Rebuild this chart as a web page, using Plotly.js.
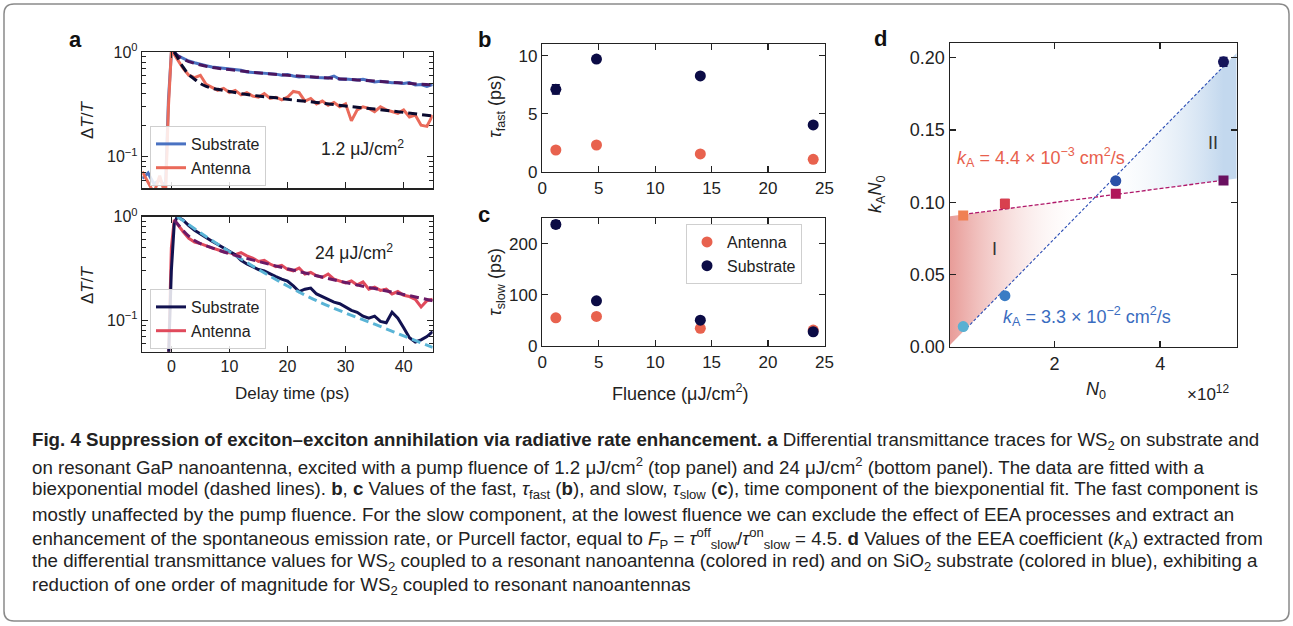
<!DOCTYPE html>
<html><head><meta charset="utf-8">
<script src="https://cdn.plot.ly/plotly-3.0.1.min.js"></script>
<style>html,body{margin:0;padding:0;background:#fff}#chart{width:1293px;height:626px}</style>
</head><body><div id="chart"></div>
<script>
// ---------- DATA ----------
// panel a: delay-time traces (ps) and normalized dT/T
const delayTime = [-5,-4,-3,-2,-1,-0.5,0,0.5,1,2,3,4,5,6,7,8,9,10,11,12,13,14,15,16,17,18,19,20,21,22,23,24,25,26,27,28,29,30,31,32,33,34,35,36,37,38,39,40,41,42,43,44,45];
const topSubstrate = [0.062,0.07,0.055,0.06,0.052,0.35,0.97,1.0,0.93,0.87,0.82,0.79,0.76,0.74,0.72,0.71,0.69,0.68,0.675,0.67,0.645,0.64,0.635,0.625,0.62,0.615,0.60,0.61,0.59,0.578,0.585,0.575,0.57,0.568,0.565,0.59,0.55,0.553,0.545,0.54,0.548,0.53,0.518,0.525,0.515,0.51,0.508,0.50,0.512,0.485,0.49,0.47,0.49];
const topAntenna = [0.072,0.058,0.045,0.066,0.042,0.3,1.0,0.95,0.86,0.7,0.6,0.57,0.6,0.49,0.46,0.43,0.45,0.41,0.43,0.39,0.41,0.38,0.37,0.4,0.36,0.37,0.35,0.37,0.42,0.41,0.34,0.36,0.32,0.34,0.31,0.33,0.3,0.32,0.22,0.28,0.3,0.29,0.27,0.3,0.28,0.27,0.26,0.28,0.24,0.25,0.2,0.195,0.25];
const bottomSubstrate = [0.03,0.03,0.03,0.03,0.03,0.04,0.3,0.85,1.0,0.93,0.82,0.74,0.68,0.62,0.58,0.54,0.50,0.47,0.43,0.38,0.35,0.33,0.31,0.30,0.28,0.265,0.25,0.24,0.215,0.19,0.2,0.205,0.18,0.17,0.16,0.15,0.145,0.135,0.125,0.12,0.11,0.105,0.11,0.098,0.095,0.12,0.105,0.085,0.068,0.062,0.065,0.07,0.078];
const bottomAntenna = [0.03,0.03,0.03,0.03,0.03,0.04,0.5,0.93,0.85,0.72,0.62,0.57,0.55,0.52,0.5,0.48,0.46,0.45,0.43,0.45,0.42,0.4,0.37,0.38,0.35,0.33,0.34,0.31,0.3,0.32,0.28,0.29,0.27,0.26,0.28,0.25,0.24,0.23,0.24,0.22,0.235,0.2,0.21,0.195,0.2,0.18,0.19,0.175,0.17,0.16,0.135,0.155,0.16];
// biexponential fits (dashed)
const fitTimeTopSub = [0.5,1,2,3,4,6,8,10,13,16,20,25,30,35,40,45];
const fitTopSub = [1.0,0.93,0.86,0.81,0.78,0.73,0.70,0.68,0.65,0.625,0.60,0.575,0.55,0.528,0.505,0.485];
const fitTimeTopAnt = [0.5,1,2,3,4,5,6,7,8,10,12,15,18,21,25,30,35,40,45];
const fitTopAnt = [1.0,0.9,0.72,0.61,0.55,0.5,0.47,0.45,0.44,0.42,0.40,0.38,0.365,0.348,0.33,0.305,0.285,0.265,0.245];
const fitTimeBotAnt = [0.5,1,2,3,4,5,7,10,15,20,25,30,35,40,45];
const fitBotAnt = [0.93,0.86,0.74,0.65,0.59,0.55,0.5,0.44,0.37,0.315,0.27,0.232,0.203,0.178,0.155];
const fitTimeBotSub = [1,2,5,10,15,20,25,30,35,40,45];
const fitBotSub = [1.0,0.92,0.70,0.46,0.31,0.215,0.155,0.118,0.092,0.071,0.055];

// panels b, c
const fluence = [1.2,4.8,14,24];
const tauFastSubstrate = [7.1,9.7,8.25,4.03];
const tauFastSubstrateErr = [0.4,0.2,0.15,0.1];
const tauFastAntenna = [1.87,2.3,1.53,1.07];
const tauFastAntennaErr = [0.1,0.1,0.1,0.08];
const tauSlowSubstrate = [238,88,50,27.4];
const tauSlowSubstrateErr = [7,3,3,2];
const tauSlowAntenna = [54.7,57.4,34,30.7];
const tauSlowAntennaErr = [2,2,2,2];

// panel d
const n0 = [0.27,1.06,3.16,5.2];
const kAN0Antenna = [0.0908,0.0989,0.1058,0.115];
const kAN0AntennaErr = [0.001,0.003,0.002,0.0015];
const kAN0Substrate = [0.0139,0.0353,0.1148,0.1972];
const kAN0SubstrateErr = [0.001,0.001,0.002,0.003];
const fitAntennaIntercept = 0.0902, fitAntennaSlope = 0.00481;
const fitSubstrateIntercept = 0.00035, fitSubstrateSlope = 0.03724;

// ---------- STYLE ----------
const W = 1293, H = 626;
const FONT = '"Liberation Sans", Arial, sans-serif';
const CAPFONT = '"Liberation Sans", Arial, sans-serif';
const px = x => x / W, py = y => 1 - y / H;

const cSub1 = '#4a72c2', cAnt1 = '#ea6a5a', cFit1Sub = '#4a1660', cFit1Ant = '#0a0a2e';
const cSub2 = '#121250', cAnt2 = '#e04a5c', cFit2Ant = '#6a1a66', cFit2Sub = '#5ab4d6';
const cNavy = '#0b0b45', cCoral = '#e8624e';
const antColors = ['#f08052','#d8404e','#b0165a','#6a1060'];
const subColors = ['#5ab0d2','#3a7cc4','#2a50a8','#14145a'];

const traces = [];
// ---- panel a top
traces.push({x: delayTime, y: topSubstrate, xaxis:'x', yaxis:'y', mode:'lines', name:'Substrate', legend:'legend', line:{color:cSub1, width:3}});
traces.push({x: delayTime, y: topAntenna, xaxis:'x', yaxis:'y', mode:'lines', name:'Antenna', legend:'legend', line:{color:cAnt1, width:3}});
traces.push({x: fitTimeTopSub, y: fitTopSub, xaxis:'x', yaxis:'y', mode:'lines', showlegend:false, line:{color:cFit1Sub, width:3, dash:'9px,5px', shape:'spline'}});
traces.push({x: fitTimeTopAnt, y: fitTopAnt, xaxis:'x', yaxis:'y', mode:'lines', showlegend:false, line:{color:cFit1Ant, width:3, dash:'9px,5px', shape:'spline'}});
// ---- panel a bottom
traces.push({x: delayTime, y: bottomAntenna, xaxis:'x2', yaxis:'y2', mode:'lines', name:'Antenna', legend:'legend2', line:{color:cAnt2, width:3}});
traces.push({x: delayTime, y: bottomSubstrate, xaxis:'x2', yaxis:'y2', mode:'lines', name:'Substrate', legend:'legend2', line:{color:cSub2, width:3}});
traces.push({x: fitTimeBotSub, y: fitBotSub, xaxis:'x2', yaxis:'y2', mode:'lines', showlegend:false, line:{color:cFit2Sub, width:3, dash:'9px,5px', shape:'spline'}});
traces.push({x: fitTimeBotAnt, y: fitBotAnt, xaxis:'x2', yaxis:'y2', mode:'lines', showlegend:false, line:{color:cFit2Ant, width:3, dash:'9px,5px', shape:'spline'}});
// ---- panel b
traces.push({x: fluence, y: tauFastAntenna, xaxis:'x3', yaxis:'y3', mode:'markers', showlegend:false, marker:{color:cCoral, size:11}, error_y:{type:'data', array:tauFastAntennaErr, color:cCoral, thickness:1.5, width:3}});
traces.push({x: fluence, y: tauFastSubstrate, xaxis:'x3', yaxis:'y3', mode:'markers', showlegend:false, marker:{color:cNavy, size:11}, error_y:{type:'data', array:tauFastSubstrateErr, color:cNavy, thickness:1.5, width:4}});
// ---- panel c
traces.push({x: fluence, y: tauSlowAntenna, xaxis:'x4', yaxis:'y4', mode:'markers', name:'Antenna', legend:'legend3', marker:{color:cCoral, size:11}, error_y:{type:'data', array:tauSlowAntennaErr, color:cCoral, thickness:1.5, width:3}});
traces.push({x: fluence, y: tauSlowSubstrate, xaxis:'x4', yaxis:'y4', mode:'markers', name:'Substrate', legend:'legend3', marker:{color:cNavy, size:11}, error_y:{type:'data', array:tauSlowSubstrateErr, color:cNavy, thickness:1.5, width:4}});

// ---- panel d
const dXmin = 0.02, dXmax = 5.45;
const lineA = x => fitAntennaIntercept + fitAntennaSlope * x;
const lineS = x => fitSubstrateIntercept + fitSubstrateSlope * x;
const xCross = (fitAntennaIntercept - fitSubstrateIntercept) / (fitSubstrateSlope - fitAntennaSlope);
// region I (red)
traces.push({x:[dXmin, xCross, dXmin, dXmin], y:[lineA(dXmin), lineA(xCross), lineS(dXmin), lineA(dXmin)], xaxis:'x5', yaxis:'y5', mode:'lines', line:{width:0}, fill:'toself', showlegend:false, hoverinfo:'skip',
  fillgradient:{type:'horizontal', start:dXmin, stop:xCross*0.95, colorscale:[[0,'#e89c98'],[1,'rgba(255,255,255,0)']]}});
// region II (blue)
traces.push({x:[xCross, dXmax, dXmax, xCross], y:[lineS(xCross), lineS(dXmax), lineA(dXmax), lineS(xCross)], xaxis:'x5', yaxis:'y5', mode:'lines', line:{width:0}, fill:'toself', showlegend:false, hoverinfo:'skip',
  fillgradient:{type:'horizontal', start:xCross, stop:5.2, colorscale:[[0,'rgba(255,255,255,0)'],[1,'#c3d8ee']]}});
// fit lines
const fitX = [n0[0], n0[n0.length-1]];
traces.push({x: fitX, y: fitX.map(lineA), xaxis:'x5', yaxis:'y5', mode:'lines', showlegend:false, line:{color:'#b0186a', width:1.3, dash:'4px,2px'}});
traces.push({x: fitX, y: fitX.map(lineS), xaxis:'x5', yaxis:'y5', mode:'lines', showlegend:false, line:{color:'#2a4cb4', width:1.1, dash:'3px,2px'}});
// points
traces.push({x: n0, y: kAN0Antenna, xaxis:'x5', yaxis:'y5', mode:'markers', showlegend:false, marker:{symbol:'square', size:10, color:antColors}, error_y:{type:'data', array:kAN0AntennaErr, color:'#b0165a', thickness:1.5, width:4}});
traces.push({x: n0, y: kAN0Substrate, xaxis:'x5', yaxis:'y5', mode:'markers', showlegend:false, marker:{symbol:'circle', size:11, color:subColors}, error_y:{type:'data', array:kAN0SubstrateErr, color:'#14145a', thickness:1.5, width:4}});

// ---------- AXES ----------
function ax(extra){
  return Object.assign({showline:true, linecolor:'#222', linewidth:1.5, mirror:'allticks', ticks:'inside', ticklen:6, tickwidth:1.3, tickcolor:'#222',
    showgrid:false, zeroline:false, tickfont:{family:FONT, size:16, color:'#222'}, fixedrange:true}, extra);
}
const logMinor = {ticks:'inside', ticklen:3.5, tickwidth:1, tickcolor:'#222', tickvals:[0.05,0.06,0.07,0.08,0.09,0.2,0.3,0.4,0.5,0.6,0.7,0.8,0.9]};
const logTicks = {type:'log', range:[Math.log10(0.05), 0], tickvals:[0.1,1], ticktext:['10<sup>−1</sup>','10<sup>0</sup>'], minor:logMinor};
const t17 = {family:FONT, size:17, color:'#222'};

const layout = {
  width:W, height:H, margin:{l:0,r:0,t:0,b:0}, paper_bgcolor:'#fff', plot_bgcolor:'rgba(0,0,0,0)',
  font:{family:FONT, color:'#222'},
  xaxis: ax({domain:[px(142.3), px(432.7)], anchor:'y', range:[-5,45], tickvals:[0,10,20,30,40], showticklabels:false}),
  yaxis: ax(Object.assign({domain:[py(188.3), py(52)], anchor:'x'}, logTicks)),
  xaxis2: ax({domain:[px(142.3), px(432.7)], anchor:'y2', range:[-5,45], tickvals:[0,10,20,30,40]}),
  yaxis2: ax(Object.assign({domain:[py(351.7), py(216.7)], anchor:'x2'}, logTicks)),
  xaxis3: ax({domain:[px(542.3), px(824.5)], anchor:'y3', range:[0,25], tickvals:[0,5,10,15,20,25], tickfont:t17}),
  yaxis3: ax({domain:[py(171.7), py(44)], anchor:'x3', range:[0,11], tickvals:[0,5,10], tickfont:t17}),
  xaxis4: ax({domain:[px(542.3), px(824.5)], anchor:'y4', range:[0,25], tickvals:[0,5,10,15,20,25], tickfont:t17}),
  yaxis4: ax({domain:[py(345.7), py(218.3)], anchor:'x4', range:[0,250], tickvals:[0,100,200], tickfont:t17}),
  xaxis5: ax({domain:[px(950), px(1236.7)], anchor:'y5', range:[dXmin, dXmax], tickvals:[2,4], tickfont:{family:FONT,size:18,color:'#222'}}),
  yaxis5: ax({domain:[py(346.7), py(43.3)], anchor:'x5', range:[0,0.21], tickvals:[0,0.05,0.1,0.15,0.2], tickformat:'.2f', tickfont:{family:FONT,size:18,color:'#222'}}),
  legend: {x:px(150), y:py(126), xanchor:'left', yanchor:'top', bgcolor:'rgba(255,255,255,0.85)', bordercolor:'#cfcfcf', borderwidth:1, font:{family:FONT,size:16,color:'#222'}, tracegroupgap:0},
  legend2: {x:px(150), y:py(289), xanchor:'left', yanchor:'top', bgcolor:'rgba(255,255,255,0.85)', bordercolor:'#cfcfcf', borderwidth:1, font:{family:FONT,size:16,color:'#222'}, traceorder:'reversed'},
  legend3: {x:px(686), y:py(224), xanchor:'left', yanchor:'top', bgcolor:'rgba(255,255,255,0.85)', bordercolor:'#cfcfcf', borderwidth:1, font:{family:FONT,size:16,color:'#222'}},
  annotations: [],
  shapes: []
};

function ann(x, y, text, opts){
  layout.annotations.push(Object.assign({xref:'paper', yref:'paper', x:px(x), y:py(y), text:text, showarrow:false,
    xanchor:'center', yanchor:'middle', font:{family:FONT, size:17, color:'#222'}}, opts||{}));
}
const bigBold = {family:FONT, size:22, color:'#111'};
// panel letters
ann(75, 40, '<b>a</b>', {font:bigBold});
ann(484, 40, '<b>b</b>', {font:bigBold});
ann(484, 214, '<b>c</b>', {font:bigBold});
ann(880, 38, '<b>d</b>', {font:bigBold});
// axis titles
ann(87, 120, 'Δ<i>T</i>/<i>T</i>', {textangle:-90});
ann(87, 285, 'Δ<i>T</i>/<i>T</i>', {textangle:-90});
ann(292, 393, 'Delay time (ps)');
ann(496, 107, '<i>τ</i><sub>fast</sub> (ps)', {textangle:-90, font:{family:FONT, size:18, color:'#222'}});
ann(496, 282, '<i>τ</i><sub>slow</sub> (ps)', {textangle:-90, font:{family:FONT, size:18, color:'#222'}});
ann(680, 392, 'Fluence (μJ/cm<sup>2</sup>)', {font:{family:FONT, size:18, color:'#222'}});
ann(876, 195, '<i>k</i><sub>A</sub><i>N</i><sub>0</sub>', {textangle:-90, font:{family:FONT, size:18, color:'#222'}});
ann(1096, 391, '<i>N</i><sub>0</sub>', {font:{family:FONT, size:18, color:'#222'}});
ann(1208, 393, '×10<sup>12</sup>', {font:{family:FONT, size:17, color:'#222'}});
// in-plot texts
ann(362, 148, '1.2 μJ/cm<sup>2</sup>', {font:{family:FONT, size:17.5, color:'#222'}});
ann(354, 252, '24 μJ/cm<sup>2</sup>', {font:{family:FONT, size:17.5, color:'#222'}});
ann(1041, 157, '<i>k</i><sub>A</sub> = 4.4 × 10<sup>−3</sup> cm<sup>2</sup>/s', {font:{family:FONT, size:18, color:'#e8604c'}});
ann(1087, 316, '<i>k</i><sub>A</sub> = 3.3 × 10<sup>−2</sup> cm<sup>2</sup>/s', {font:{family:FONT, size:18, color:'#3a6cc0'}});
ann(994, 249, 'I', {font:{family:FONT, size:18, color:'#333'}});
ann(1213, 143, 'II', {font:{family:FONT, size:18, color:'#333'}});

// caption
const caption = [
  '<b>Fig. 4 Suppression of exciton–exciton annihilation via radiative rate enhancement. a</b> Differential transmittance traces for WS<sub>2</sub> on substrate and',
  'on resonant GaP nanoantenna, excited with a pump fluence of 1.2 μJ/cm<sup>2</sup> (top panel) and 24 μJ/cm<sup>2</sup> (bottom panel). The data are fitted with a',
  'biexponential model (dashed lines). <b>b</b>, <b>c</b> Values of the fast, <i>τ</i><sub>fast</sub> (<b>b</b>), and slow, <i>τ</i><sub>slow</sub> (<b>c</b>), time component of the biexponential fit. The fast component is',
  'mostly unaffected by the pump fluence. For the slow component, at the lowest fluence we can exclude the effect of EEA processes and extract an',
  'enhancement of the spontaneous emission rate, or Purcell factor, equal to <i>F</i><sub>P</sub> = <i>τ</i><sup>off</sup><sub>slow</sub>/<i>τ</i><sup>on</sup><sub>slow</sub> = 4.5. <b>d</b> Values of the EEA coefficient (<i>k</i><sub>A</sub>) extracted from',
  'the differential transmittance values for WS<sub>2</sub> coupled to a resonant nanoantenna (colored in red) and on SiO<sub>2</sub> substrate (colored in blue), exhibiting a',
  'reduction of one order of magnitude for WS<sub>2</sub> coupled to resonant nanoantennas'
];
const captionY = [441, 466, 490, 514, 538, 562, 586];
caption.forEach((t, i) => ann(30, captionY[i], t, {xanchor:'left', font:{family:CAPFONT, size:18.7, color:'#222'}}));

// outer rounded frame
(function(){
  const x0=4, y0=4, x1=1289, y1=621, r=10;
  const X = v => px(v).toFixed(5), Y = v => py(v).toFixed(5);
  const p = `M ${X(x0+r)},${Y(y0)} L ${X(x1-r)},${Y(y0)} Q ${X(x1)},${Y(y0)} ${X(x1)},${Y(y0+r)} L ${X(x1)},${Y(y1-r)} Q ${X(x1)},${Y(y1)} ${X(x1-r)},${Y(y1)} L ${X(x0+r)},${Y(y1)} Q ${X(x0)},${Y(y1)} ${X(x0)},${Y(y1-r)} L ${X(x0)},${Y(y0+r)} Q ${X(x0)},${Y(y0)} ${X(x0+r)},${Y(y0)} Z`;
  layout.shapes.push({type:'path', xref:'paper', yref:'paper', path:p, line:{color:'#8a8a8a', width:1.5}, layer:'below'});
})();

Plotly.newPlot('chart', traces, layout, {staticPlot:true, displayModeBar:false});
</script>
</body></html>
